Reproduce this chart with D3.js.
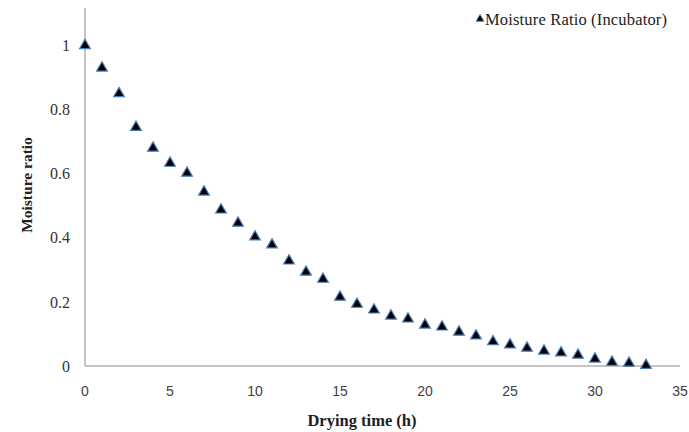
<!DOCTYPE html>
<html><head><meta charset="utf-8">
<script src="https://cdn.jsdelivr.net/npm/d3@7"></script>
<style>body{margin:0;background:#fff}</style></head>
<body><svg id="c" width="689" height="432"></svg>
<script>
const hours = [0,1,2,3,4,5,6,7,8,9,10,11,12,13,14,15,16,17,18,19,20,21,22,23,24,25,26,27,28,29,30,31,32,33];
const moistureRatio = [1.0,0.93,0.85,0.745,0.68,0.633,0.602,0.543,0.487,0.446,0.403,0.378,0.328,0.293,0.271,0.215,0.193,0.175,0.156,0.147,0.128,0.122,0.106,0.094,0.076,0.066,0.056,0.047,0.041,0.034,0.022,0.012,0.009,0.002];
const xTicks = [0,5,10,15,20,25,30,35];
const yTicks = [0,0.2,0.4,0.6,0.8,1];
const yTickLabels = ["0","0.2","0.4","0.6","0.8","1"];
const seriesName = "Moisture Ratio (Incubator)";

const svg = d3.select("#c");
const x = d3.scaleLinear().domain([0,35]).range([85,680]);
const y = d3.scaleLinear().domain([0,1]).range([366,45.5]);

svg.append("line").attr("x1",x(0)).attr("x2",x(0)).attr("y1",y(1.117)).attr("y2",y(0)).attr("stroke","#8c8c8c").attr("stroke-width",1);
svg.append("line").attr("x1",x(0)).attr("x2",x(35)).attr("y1",y(0)).attr("y2",y(0)).attr("stroke","#8c8c8c").attr("stroke-width",1);

svg.append("g").selectAll("text").data(yTicks).join("text")
  .attr("x",70).attr("y",d=>y(d)).attr("dy","0.35em").attr("text-anchor","end")
  .attr("font-family","Liberation Serif").attr("font-size",16).attr("fill","#333")
  .text((d,i)=>yTickLabels[i]);

svg.append("g").selectAll("text").data(xTicks).join("text")
  .attr("x",d=>x(d)).attr("y",391).attr("dy","0.35em").attr("text-anchor","middle")
  .attr("font-family","Liberation Sans").attr("font-size",14).attr("fill","#404040")
  .text(d=>d);

svg.append("text").attr("x",362).attr("y",420).attr("dy","0.35em").attr("text-anchor","middle")
  .attr("font-family","Liberation Serif").attr("font-weight","bold").attr("font-size",16.5).attr("fill","#222")
  .text("Drying time (h)");
svg.append("text").attr("transform","translate(27,185) rotate(-90)").attr("dy","0.35em").attr("text-anchor","middle")
  .attr("font-family","Liberation Serif").attr("font-weight","bold").attr("font-size",15.5).attr("fill","#222")
  .text("Moisture ratio");

const tri = d3.symbol().type(d3.symbolTriangle).size(50);
svg.append("g").selectAll("path").data(hours).join("path")
  .attr("transform",(d,i)=>`translate(${x(d)},${y(moistureRatio[i])})`)
  .attr("d",tri).attr("fill","#000").attr("stroke","#4a7ebb").attr("stroke-width",1.2);

svg.append("path").attr("transform","translate(480,19)").attr("d",d3.symbol().type(d3.symbolTriangle).size(26)())
  .attr("fill","#000").attr("stroke","#4a7ebb").attr("stroke-width",1);
svg.append("text").attr("x",485).attr("y",19).attr("dy","0.35em").attr("textLength",182)
  .attr("font-family","Liberation Serif").attr("font-size",16.5).attr("fill","#222").text(seriesName);
</script></body></html>
